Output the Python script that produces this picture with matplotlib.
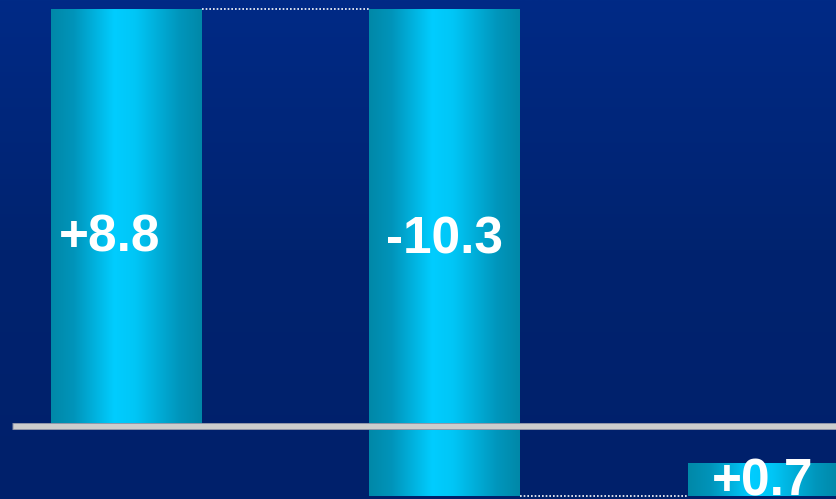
import numpy as np
import matplotlib
matplotlib.use('Agg')
import matplotlib.pyplot as plt
from matplotlib.colors import LinearSegmentedColormap

# 数据
steps = ['a', 'b', 'c']
changes = [8.8, -10.3, 0.7]
labels = ['+8.8', '-10.3', '+0.7']

starts = [0.0]
for v in changes[:-1]:
    starts.append(starts[-1] + v)
starts = np.array(starts)
ends = starts + np.array(changes)
bottoms = np.minimum(starts, ends)
heights = np.abs(changes)
xs = np.arange(len(steps))

plt.rcParams['font.family'] = ['Liberation Sans', 'DejaVu Sans']

fig = plt.figure(figsize=(8.36, 4.99), dpi=100)
ax = fig.add_axes([0, 0, 1, 1])
xlim = (-0.397, 2.228)
ylim = (-1.564, 8.985)
ax.set_xlim(*xlim)
ax.set_ylim(*ylim)
ax.axis('off')

# 背景渐变
bg = LinearSegmentedColormap.from_list('bg', ['#00206b', '#00236f', '#002a86'])
grad = np.linspace(0, 1, 256).reshape(-1, 1)
ax.imshow(grad, cmap=bg, extent=(*xlim, *ylim), origin='lower', aspect='auto', zorder=0)

# 柱子，水平渐变
barcm = LinearSegmentedColormap.from_list('bar', [
    (0.0, '#0088a8'), (0.15, '#0094ba'), (0.42, '#00cdff'),
    (0.56, '#00c6f6'), (0.85, '#0096bc'), (1.0, '#0088a8')])
hgrad = np.linspace(0, 1, 256).reshape(1, -1)
w = 0.474
bars = ax.bar(xs, heights, bottom=bottoms, width=w, color='none', edgecolor='none', zorder=2)
for b in bars:
    x0, y0 = b.get_x(), b.get_y()
    im = ax.imshow(hgrad, cmap=barcm, extent=(x0, x0 + b.get_width(), y0, y0 + b.get_height()),
                   aspect='auto', zorder=2)
    im.set_clip_path(b)

# 连接虚线
for i in range(len(changes) - 1):
    ax.plot([xs[i] + w / 2, xs[i + 1] - w / 2], [ends[i], ends[i]], color='white',
            linestyle=(0, (1, 1.2)), lw=1.2, zorder=3)

# 零线
ax.plot([-0.36, xlim[1]], [-0.02, -0.02], color='#8c90a4', lw=5.0, solid_capstyle='butt', zorder=4)
ax.plot([-0.357, xlim[1]], [-0.02, -0.02], color='#cdcdcd', lw=3.8, solid_capstyle='butt', zorder=4)

# 标签
label_x = [-0.053, 1.0, 1.997]
label_y = [3.66, 3.62, -1.48]
for lx, ly, t in zip(label_x, label_y, labels):
    ax.text(lx, ly, t, color='white', fontsize=37, fontweight='bold', ha='center',
            va='baseline', zorder=5)

fig.savefig('out.png', dpi=100)
